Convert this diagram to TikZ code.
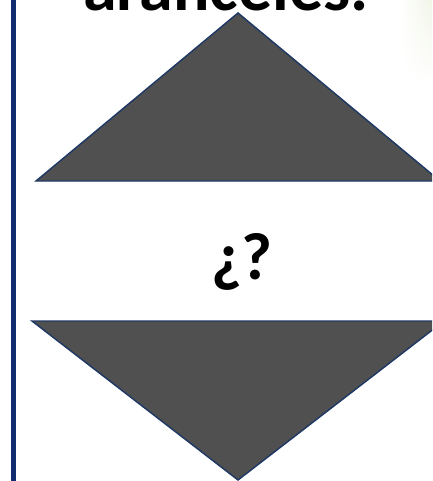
\documentclass[tikz,border=0pt]{standalone}
\usepackage{fontspec}
\setmainfont{Carlito}
\usetikzlibrary{positioning,fadings}

\tikzset{every picture/.style={line width=0.75pt}}

\begin{document}
\begin{tikzpicture}[x=0.75pt,y=0.75pt,yscale=-1,xscale=1]
%set diagram left start at 0, and has height of 481
\useasboundingbox (0,0) rectangle (432,481);
\clip (0,0) rectangle (432,481);

%Shape: Rectangle [id:faded corner]
\shade [left color=white, right color={rgb, 255:red, 226; green, 234; blue, 206 }, opacity=0.5, path fading=south] (400,0) rectangle (432,85);

%Straight Lines [id:left rule]
\draw [color={rgb, 255:red, 18; green, 44; blue, 114 }  ,draw opacity=1 ][line width=3.75pt]   (13.5,0) -- (13.5,481) ;

%Shape: Triangle [id:upper]
\draw  [color={rgb, 255:red, 31; green, 56; blue, 100 }  ,draw opacity=1 ][fill={rgb, 255:red, 80; green, 80; blue, 80 }  ,fill opacity=1 ][line width=1.1pt] (238,13) -- (440,181) -- (36,181) -- cycle ;
%Shape: Triangle [id:lower]
\draw  [color={rgb, 255:red, 31; green, 56; blue, 100 }  ,draw opacity=1 ][fill={rgb, 255:red, 80; green, 80; blue, 80 }  ,fill opacity=1 ][line width=1.1pt] (32,321) -- (444,321) -- (238,480) -- cycle ;

% Text Node
\draw (226,11) node (title) [anchor=base][inner sep=0.75pt]  [font=\fontsize{51}{60}\selectfont\bfseries]  {aranceles.};
% Text Node
\draw (242,279) node (ask) [anchor=base][inner sep=0.75pt]  [font=\fontsize{50}{58}\selectfont\bfseries]  {¿?};

\end{tikzpicture}
\end{document}
